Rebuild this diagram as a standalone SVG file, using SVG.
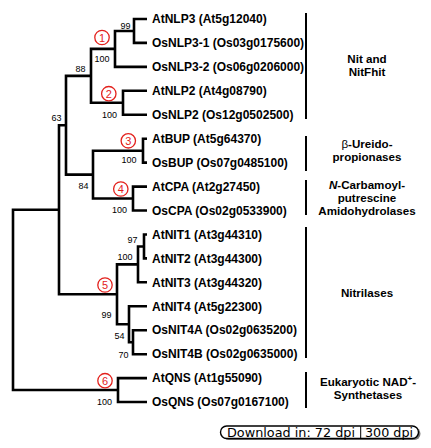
<svg xmlns="http://www.w3.org/2000/svg" width="431" height="448" viewBox="0 0 431 448">
<style>
.leaf{font-family:"Liberation Sans",Arial,sans-serif;font-weight:bold;font-size:12px;fill:#000}
.grp{font-family:"Liberation Sans",Arial,sans-serif;font-weight:bold;font-size:11.6px;fill:#000;text-anchor:middle}
.bs{font-family:"Liberation Sans",Arial,sans-serif;font-size:9px;fill:#000;text-anchor:end}
.br{fill:none;stroke:#000;stroke-width:2.6;stroke-linejoin:miter;stroke-linecap:butt}
.bar{stroke:#000;stroke-width:2}
.cl circle{fill:#fff;stroke:#e3211c;stroke-width:1.3}
.cl text{font-family:"Liberation Sans",Arial,sans-serif;font-size:11px;fill:#e3211c;text-anchor:middle}
.btn{font-family:"DejaVu Sans",Verdana,sans-serif;font-size:12px;fill:#000}
</style>
<rect width="431" height="448" fill="#fff"/>
<g id="connectors">
<path class="br" d="M147,19 H134 V42.9 H147"/>
<path class="br" d="M134,31 H115 V66.9 H147"/>
<path class="br" d="M147,90.8 H123 V114.8 H147"/>
<path class="br" d="M115,48.9 H91 V102.8 H123"/>
<path class="br" d="M147,138.7 H143 V162.6 H147"/>
<path class="br" d="M147,186.6 H133 V210.5 H147"/>
<path class="br" d="M143,150.7 H93 V198.5 H133"/>
<path class="br" d="M91,75.9 H66 V174.6 H93"/>
<path class="br" d="M147,234.5 H144 V258.4 H147"/>
<path class="br" d="M144,246.5 H138 V282.3 H147"/>
<path class="br" d="M147,330.2 H133 V354.2 H147"/>
<path class="br" d="M147,306.3 H129 V342.2 H133"/>
<path class="br" d="M138,264.4 H117 V324.2 H129"/>
<path class="br" d="M66,125.2 H59 V294.3 H117"/>
<path class="br" d="M147,378.1 H118 V402 H147"/>
<path class="br" d="M59,209.8 H13 V390 H118"/>
</g>
<g id="bootstrap">
<text class="bs" x="130.5" y="29">99</text>
<text class="bs" x="109.5" y="61.5">100</text>
<text class="bs" x="85.5" y="72">88</text>
<text class="bs" x="117" y="117.5">100</text>
<text class="bs" x="61.5" y="121">63</text>
<text class="bs" x="136.5" y="163">100</text>
<text class="bs" x="88.5" y="188.5">84</text>
<text class="bs" x="127" y="213">100</text>
<text class="bs" x="137.5" y="242.5">97</text>
<text class="bs" x="132.5" y="259.5">100</text>
<text class="bs" x="111.5" y="317.5">99</text>
<text class="bs" x="124.5" y="339">54</text>
<text class="bs" x="128.5" y="357.5">70</text>
<text class="bs" x="112" y="405">100</text>
</g>
<g id="clade-markers" class="cl">
<g id="c1"><circle cx="102" cy="37.5" r="7.2"/><text x="102" y="41.5">1</text></g>
<g id="c2"><circle cx="108.8" cy="93.7" r="7.2"/><text x="108.8" y="97.7">2</text></g>
<g id="c3"><circle cx="128.3" cy="140.8" r="7.2"/><text x="128.3" y="144.8">3</text></g>
<g id="c4"><circle cx="120.8" cy="189" r="7.2"/><text x="120.8" y="193">4</text></g>
<g id="c5"><circle cx="105" cy="285" r="7.2"/><text x="105" y="289">5</text></g>
<g id="c6"><circle cx="105" cy="380.7" r="7.2"/><text x="105" y="384.7">6</text></g>
</g>
<g id="leaves">
<g id="AtNLP3"><text class="leaf" x="152" y="23">AtNLP3 (At5g12040)</text></g>
<g id="OsNLP3-1"><text class="leaf" x="152" y="47">OsNLP3-1 (Os03g0175600)</text></g>
<g id="OsNLP3-2"><text class="leaf" x="152" y="71">OsNLP3-2 (Os06g0206000)</text></g>
<g id="AtNLP2"><text class="leaf" x="152" y="95">AtNLP2 (At4g08790)</text></g>
<g id="OsNLP2"><text class="leaf" x="152" y="119">OsNLP2 (Os12g0502500)</text></g>
<g id="AtBUP"><text class="leaf" x="152" y="143">AtBUP (At5g64370)</text></g>
<g id="OsBUP"><text class="leaf" x="152" y="167">OsBUP (Os07g0485100)</text></g>
<g id="AtCPA"><text class="leaf" x="152" y="191">AtCPA (At2g27450)</text></g>
<g id="OsCPA"><text class="leaf" x="152" y="215">OsCPA (Os02g0533900)</text></g>
<g id="AtNIT1"><text class="leaf" x="152" y="239">AtNIT1 (At3g44310)</text></g>
<g id="AtNIT2"><text class="leaf" x="152" y="263">AtNIT2 (At3g44300)</text></g>
<g id="AtNIT3"><text class="leaf" x="152" y="287">AtNIT3 (At3g44320)</text></g>
<g id="AtNIT4"><text class="leaf" x="152" y="311">AtNIT4 (At5g22300)</text></g>
<g id="OsNIT4A"><text class="leaf" x="152" y="334">OsNIT4A (Os02g0635200)</text></g>
<g id="OsNIT4B"><text class="leaf" x="152" y="358">OsNIT4B (Os02g0635000)</text></g>
<g id="AtQNS"><text class="leaf" x="152" y="382">AtQNS (At1g55090)</text></g>
<g id="OsQNS"><text class="leaf" x="152" y="406">OsQNS (Os07g0167100)</text></g>
</g>
<g id="groups">
<g id="grp-nit"><line class="bar" x1="306" y1="13" x2="306" y2="119"/>
<text class="grp" x="367" y="62.5">Nit and</text><text class="grp" x="367" y="75.5">NitFhit</text></g>
<g id="grp-bup"><line class="bar" x1="306" y1="136" x2="306" y2="171"/>
<text class="grp" x="367" y="147.5"><tspan font-weight="normal">β</tspan>-Ureido-</text><text class="grp" x="367" y="161">propionases</text></g>
<g id="grp-cpa"><line class="bar" x1="306" y1="180" x2="306" y2="215"/>
<text class="grp" x="367" y="188.5"><tspan font-style="italic">N</tspan>-Carbamoyl-</text><text class="grp" x="367" y="201.5">putrescine</text><text class="grp" x="367" y="214.5">Amidohydrolases</text></g>
<g id="grp-nitrilases"><line class="bar" x1="306" y1="227" x2="306" y2="358"/>
<text class="grp" x="367" y="297">Nitrilases</text></g>
<g id="grp-qns"><line class="bar" x1="306" y1="372" x2="306" y2="408"/>
<text class="grp" x="368" y="385.5">Eukaryotic NAD<tspan font-size="8" dy="-4.5">+</tspan><tspan dy="4.5">-</tspan></text><text class="grp" x="368" y="398.5">Synthetases</text></g>
</g>
<g id="download">
<rect x="222.5" y="427.5" width="198" height="12.5" rx="6.2" fill="#777"/>
<rect x="220.5" y="426" width="198" height="12.5" rx="6.2" fill="#fff" stroke="#000" stroke-width="1.4"/>
<line x1="360.7" y1="426" x2="360.7" y2="438.5" stroke="#000" stroke-width="1"/>
<text class="btn" x="227" y="436.5" textLength="128" lengthAdjust="spacingAndGlyphs">Download in:  72 dpi</text>
<text class="btn" x="365" y="436.5" textLength="48" lengthAdjust="spacingAndGlyphs">300 dpi</text>
</g>
</svg>
